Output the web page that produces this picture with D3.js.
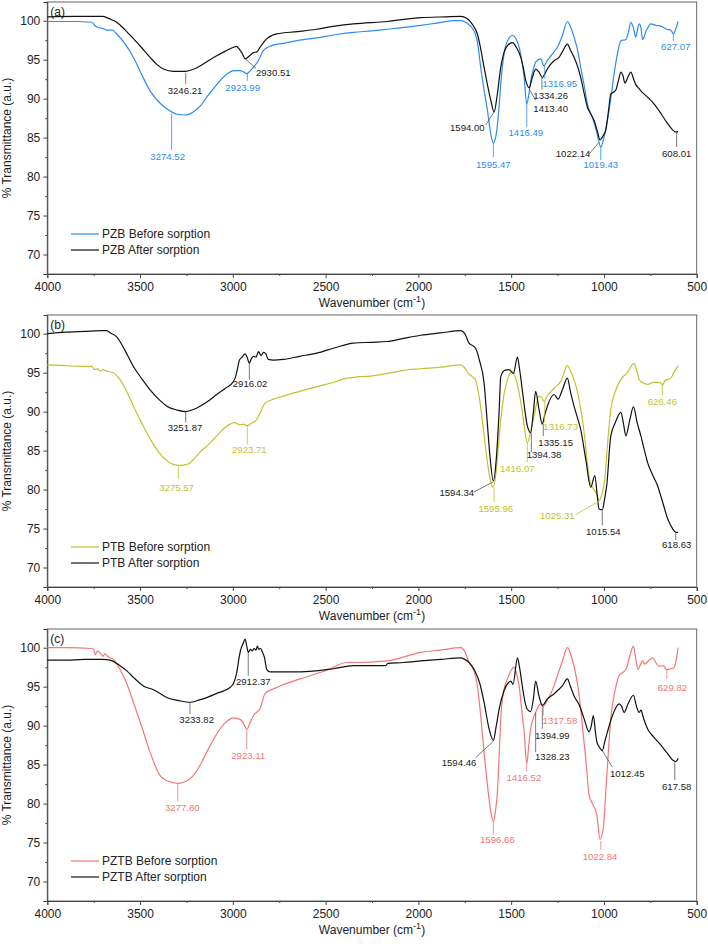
<!DOCTYPE html>
<html>
<head>
<meta charset="utf-8">
<script src="https://cdn.jsdelivr.net/npm/d3@7/dist/d3.min.js"></script>
<style>
  body { margin: 0; background: #fff; }
  svg { display: block; }
  text { font-family: "Liberation Sans", Arial, sans-serif; }
</style>
</head>
<body>
<script>
// ---- data: [wavenumber, % transmittance] ----
const pzbBefore = [[4000,99.9],[3850,99.9],[3760,99.8],[3740,99.3],[3720,99.1],[3700,99.0],[3680,98.8],[3650,98.8],[3626,98.3],[3580,97.0],[3536,95.3],[3490,93.0],[3446,91.0],[3400,89.6],[3356,88.7],[3300,88.0],[3260,87.9],[3213,88.3],[3170,89.2],[3141,90.2],[3100,91.4],[3069,92.3],[3030,93.2],[2996,93.6],[2961,93.6],[2940,93.4],[2925,93.2],[2905,93.6],[2889,94.0],[2860,95.0],[2835,96.2],[2790,96.8],[2728,97.1],[2640,97.5],[2548,97.8],[2450,98.2],[2350,98.5],[2250,98.7],[2167,98.9],[2050,99.2],[1987,99.4],[1900,99.7],[1800,100.0],[1771,100.0],[1740,99.7],[1700,98.7],[1680,97.0],[1664,94.0],[1645,91.0],[1628,88.5],[1610,85.5],[1596,84.3],[1580,85.5],[1565,89.0],[1556,91.9],[1540,95.5],[1520,97.4],[1493,98.1],[1470,97.5],[1457,96.6],[1440,94.5],[1430,92.7],[1416,89.3],[1405,90.5],[1395,92.2],[1380,93.8],[1368,94.7],[1341,95.1],[1323,94.2],[1305,94.9],[1286,95.5],[1251,96.6],[1225,98.0],[1197,99.9],[1180,99.2],[1161,97.9],[1140,96.0],[1125,94.0],[1105,91.5],[1089,89.3],[1062,87.6],[1040,85.8],[1017,83.8],[1000,85.0],[981,87.2],[960,90.5],[945,93.2],[925,96.0],[909,97.4],[882,97.6],[868,98.5],[855,99.8],[840,99.0],[828,97.9],[818,99.0],[810,99.6],[800,99.0],[792,97.6],[770,98.8],[747,99.6],[720,99.4],[693,99.3],[660,98.9],[639,98.8],[626,98.3],[612,99.0],[600,99.9]];
const pzbAfter = [[4000,100.5],[3850,100.55],[3700,100.55],[3680,100.4],[3650,100.1],[3626,99.8],[3580,98.8],[3536,97.7],[3490,96.5],[3446,95.3],[3410,94.4],[3374,93.8],[3320,93.5],[3254,93.5],[3210,93.8],[3177,94.2],[3130,94.9],[3087,95.5],[3040,96.1],[2996,96.6],[2980,96.7],[2970,96.5],[2950,95.8],[2933,95.1],[2910,95.5],[2889,95.9],[2870,96.0],[2853,96.6],[2835,97.2],[2817,97.7],[2790,98.1],[2763,98.3],[2650,98.6],[2548,98.9],[2450,99.3],[2350,99.6],[2167,99.9],[1987,100.4],[1850,100.5],[1771,100.55],[1740,100.3],[1717,99.8],[1700,99.2],[1682,98.3],[1665,96.5],[1646,94.0],[1628,91.8],[1610,89.8],[1592,88.3],[1575,90.5],[1556,94.0],[1540,95.8],[1520,96.8],[1493,97.2],[1470,96.5],[1448,95.3],[1435,94.0],[1421,92.3],[1403,91.4],[1385,92.8],[1368,93.8],[1350,93.4],[1332,92.7],[1318,93.2],[1305,93.8],[1268,94.9],[1242,95.3],[1220,96.2],[1197,97.0],[1180,96.2],[1161,95.3],[1140,94.0],[1125,92.7],[1105,90.5],[1089,88.9],[1070,88.0],[1053,87.2],[1035,85.8],[1021,84.7],[1005,85.2],[990,86.0],[975,88.5],[963,90.6],[950,90.8],[936,91.1],[920,92.5],[909,93.4],[898,93.0],[887,92.0],[870,92.8],[855,93.4],[840,92.5],[828,91.8],[815,91.4],[801,91.0],[765,90.2],[729,89.3],[690,88.0],[657,86.8],[630,86.0],[612,85.7],[600,85.8]];

const ptbBefore = [[4000,96.0],[3900,95.9],[3800,95.8],[3760,95.8],[3745,95.4],[3730,95.5],[3715,95.2],[3700,95.4],[3680,95.2],[3644,95.0],[3608,94.1],[3570,92.5],[3536,90.7],[3490,88.5],[3446,86.5],[3400,84.8],[3350,83.6],[3293,83.1],[3240,83.3],[3200,84.2],[3177,84.8],[3130,85.8],[3087,86.9],[3050,87.8],[3015,88.4],[2990,88.6],[2961,88.3],[2945,88.4],[2922,88.2],[2900,88.5],[2871,89.0],[2850,90.0],[2826,91.1],[2780,91.6],[2728,92.0],[2640,92.6],[2548,93.2],[2450,93.8],[2386,94.3],[2347,94.4],[2250,94.6],[2167,94.9],[2080,95.3],[1987,95.5],[1880,95.7],[1771,96.0],[1750,95.6],[1727,94.8],[1710,94.5],[1691,94.0],[1670,91.5],[1646,87.0],[1625,83.0],[1610,81.0],[1596,80.3],[1580,82.5],[1560,88.0],[1540,92.0],[1520,94.1],[1493,95.2],[1470,93.8],[1457,92.4],[1440,90.0],[1430,88.2],[1413,86.0],[1395,87.5],[1377,89.4],[1350,92.0],[1335,91.8],[1323,91.3],[1300,92.2],[1268,93.0],[1230,94.0],[1197,95.9],[1180,95.2],[1161,94.1],[1140,92.2],[1125,90.3],[1105,87.0],[1090,83.5],[1075,81.0],[1062,80.3],[1040,79.5],[1026,78.6],[1010,79.5],[995,81.4],[980,86.0],[963,90.3],[940,92.5],[909,94.1],[874,95.0],[838,96.2],[820,95.0],[810,94.1],[790,93.7],[765,93.5],[730,93.8],[693,93.7],[685,93.4],[670,94.0],[640,94.3],[623,95.0],[600,95.9]];
const ptbAfter = [[4000,100.0],[3900,100.2],[3800,100.3],[3700,100.4],[3680,100.4],[3660,100.1],[3626,99.6],[3580,97.8],[3536,95.8],[3490,94.2],[3446,92.8],[3400,91.6],[3356,90.7],[3300,90.2],[3254,90.0],[3210,90.3],[3177,90.7],[3130,91.4],[3087,92.2],[3040,93.0],[2996,93.9],[2985,94.5],[2975,95.5],[2965,96.6],[2950,97.0],[2934,97.4],[2922,96.9],[2911,96.2],[2900,96.8],[2889,97.1],[2875,97.0],[2862,97.7],[2848,97.2],[2835,97.6],[2822,97.4],[2809,96.7],[2780,96.6],[2728,96.7],[2640,97.1],[2548,97.5],[2450,98.2],[2350,98.8],[2250,98.9],[2167,99.0],[2080,99.4],[1987,99.8],[1880,100.1],[1771,100.4],[1750,100.0],[1727,98.8],[1710,98.5],[1691,98.1],[1670,96.5],[1646,93.7],[1630,89.0],[1615,84.5],[1596,81.1],[1580,84.0],[1565,90.0],[1556,94.5],[1535,95.3],[1511,95.4],[1488,94.9],[1466,97.0],[1455,95.5],[1440,92.8],[1413,88.2],[1395,87.3],[1380,90.0],[1368,92.6],[1350,90.3],[1332,88.4],[1320,89.5],[1305,90.7],[1268,92.2],[1247,91.6],[1224,92.8],[1197,94.3],[1180,92.5],[1161,90.7],[1140,89.0],[1125,87.7],[1098,83.9],[1071,80.3],[1049,81.8],[1035,79.0],[1026,77.5],[1009,77.4],[995,79.0],[985,80.5],[963,86.9],[940,88.5],[909,89.9],[895,88.5],[882,86.9],[860,89.0],[841,90.6],[820,88.5],[801,86.9],[774,84.3],[765,83.5],[740,82.0],[711,80.5],[685,78.5],[657,76.3],[630,75.0],[612,74.5],[600,74.5]];

const pztbBefore = [[4000,100.0],[3900,100.0],[3760,99.9],[3750,99.7],[3740,99.1],[3730,99.6],[3715,99.3],[3700,98.9],[3690,99.2],[3670,98.8],[3644,98.5],[3608,97.2],[3570,95.3],[3536,93.0],[3490,89.8],[3446,86.6],[3392,83.6],[3340,82.8],[3293,82.6],[3250,82.9],[3213,83.6],[3170,85.2],[3141,86.6],[3100,88.4],[3069,89.6],[3030,90.6],[2996,91.0],[2961,90.8],[2940,90.2],[2925,89.5],[2905,90.5],[2889,91.3],[2853,92.2],[2826,94.1],[2763,94.9],[2637,96.0],[2494,97.1],[2386,98.1],[2347,98.1],[2167,98.3],[1987,99.4],[1880,99.7],[1771,100.0],[1750,99.5],[1727,98.1],[1700,97.0],[1682,95.1],[1665,91.5],[1646,86.6],[1628,82.4],[1610,79.0],[1596,77.7],[1585,79.0],[1574,81.5],[1565,86.0],[1556,90.9],[1540,94.5],[1520,96.0],[1484,97.5],[1470,96.6],[1457,95.1],[1443,92.0],[1430,89.2],[1416,85.1],[1405,87.5],[1395,89.6],[1368,91.7],[1341,92.8],[1327,92.5],[1305,93.3],[1286,94.1],[1251,96.4],[1225,98.2],[1197,100.0],[1180,99.2],[1161,97.6],[1140,95.0],[1125,92.1],[1110,88.5],[1098,85.8],[1080,81.1],[1062,80.0],[1038,78.5],[1021,75.4],[1003,76.9],[990,81.5],[975,87.0],[963,90.9],[940,94.5],[918,96.4],[882,97.2],[860,99.0],[841,100.2],[828,98.5],[816,97.2],[804,97.8],[792,98.3],[780,97.9],[760,98.3],[738,98.7],[720,98.1],[702,97.6],[680,97.7],[661,97.2],[640,97.3],[623,97.4],[610,98.5],[600,100.0]];
const pztbAfter = [[4000,98.4],[3900,98.4],[3800,98.5],[3700,98.5],[3662,98.4],[3608,97.7],[3570,97.0],[3536,96.2],[3482,95.1],[3428,94.6],[3390,94.1],[3356,93.6],[3290,93.2],[3231,93.0],[3180,93.3],[3141,93.6],[3080,94.2],[3015,94.9],[2995,95.5],[2979,96.8],[2968,98.5],[2957,99.8],[2945,100.5],[2934,101.1],[2925,100.2],[2916,99.4],[2905,99.8],[2895,99.6],[2885,99.9],[2875,99.7],[2868,100.2],[2860,99.8],[2850,99.9],[2840,99.4],[2830,98.8],[2817,97.2],[2799,96.9],[2700,96.9],[2637,96.9],[2458,97.3],[2350,97.7],[2250,97.7],[2175,97.7],[2165,98.0],[2080,98.1],[1987,98.3],[1880,98.5],[1771,98.7],[1750,98.5],[1727,98.1],[1710,97.6],[1691,96.8],[1670,95.5],[1646,93.0],[1619,89.6],[1596,88.1],[1580,90.0],[1565,92.1],[1538,94.5],[1515,95.5],[1502,95.7],[1490,95.3],[1466,98.7],[1455,97.5],[1440,95.1],[1425,93.0],[1413,92.1],[1395,91.8],[1380,93.5],[1368,95.7],[1350,93.8],[1332,92.6],[1305,93.4],[1268,94.1],[1245,94.6],[1224,95.1],[1197,96.0],[1180,95.0],[1161,93.8],[1134,92.7],[1107,90.9],[1080,89.2],[1068,90.0],[1057,91.3],[1045,89.0],[1038,87.9],[1026,87.3],[1009,86.8],[995,88.0],[981,89.2],[954,91.3],[918,92.8],[905,92.5],[891,91.7],[870,92.8],[841,93.9],[825,92.5],[810,91.7],[800,92.0],[790,91.2],[765,89.6],[730,88.5],[693,87.5],[660,86.5],[630,85.6],[612,85.4],[600,85.8]];

// peak labels: [text, series (0 before / 1 after), x1, y1, x2, y2, textX, textY] in data units
const notesA = [
  ['3274.52',0,3330,88.1,3330,83.4,3351,82.6],
  ['3246.21',1,3254,93.3,3254,91.9,3258,91.1],
  ['2923.99',0,2922,93.2,2922,92.3,2947,91.4],
  ['2930.51',1,2933,95.1,2875,93.9,2782,93.3],
  ['1594.00',1,1592,88.3,1637,86.6,1736,86.3],
  ['1595.47',0,1596,84.3,1596,82.5,1596,81.5],
  ['1416.49',0,1416,89.3,1416,86.4,1421,85.7],
  ['1413.40',1,1404,91.3,1368,89.8,1287,88.7],
  ['1334.26',1,1334,92.7,1334,91.2,1287,90.4],
  ['1316.95',0,1319,94.2,1319,92.6,1238,92.0],
  ['1022.14',1,1026,84.4,1080,82.9,1166,83.0],
  ['1019.43',0,1017,83.8,1017,82.1,1017,81.5],
  ['608.01',1,608,85.7,608,83.8,608,83.0],
  ['627.07',0,626,98.3,626,97.4,613,96.7]
];
const notesB = [
  ['3251.87',1,3254,90.0,3254,88.6,3258,88.0],
  ['2916.02',1,2911,96.2,2911,94.1,2907,93.6],
  ['2923.71',0,2922,88.2,2922,85.8,2911,85.1],
  ['3275.57',0,3294,83.0,3294,81.4,3303,80.3],
  ['1594.34',1,1596,81.0,1700,79.7,1793,79.6],
  ['1595.96',0,1592,80.2,1592,78.4,1583,77.6],
  ['1416.07',0,1413,86.0,1413,83.5,1467,82.7],
  ['1394.38',1,1391,87.3,1391,84.8,1323,84.5],
  ['1335.15',1,1327,88.4,1327,86.9,1260,86.0],
  ['1316.73',0,1319,91.3,1319,88.6,1233,88.1],
  ['1025.31',0,1026,78.5,1152,76.8,1251,76.7],
  ['1015.54',1,1009,77.3,1009,75.4,1003,74.6],
  ['618.63',1,613,74.4,613,73.5,608,72.9],
  ['626.46',0,685,93.5,685,92.1,685,91.3]
];
const notesC = [
  ['3233.82',1,3231,93.0,3231,91.5,3195,90.8],
  ['2912.37',1,2917,99.4,2917,96.4,2890,95.6],
  ['2923.11',0,2925,89.4,2925,87.0,2917,86.2],
  ['3277.80',0,3297,82.6,3297,80.3,3272,79.5],
  ['1594.46',1,1596,88.0,1691,85.9,1781,85.3],
  ['1596.66',0,1596,77.7,1596,76.0,1574,75.4],
  ['1416.52',0,1416,85.1,1416,84.1,1431,83.3],
  ['1328.23',1,1368,91.7,1368,86.6,1278,86.0],
  ['1394.99',1,1332,92.5,1332,89.6,1278,88.7],
  ['1317.58',0,1327,92.5,1327,91.3,1237,90.6],
  ['1012.45',1,1009,86.8,955,84.7,874,83.9],
  ['1022.84',0,1017,75.2,1017,74.1,1021,73.2],
  ['629.82',0,661,97.2,661,96.0,631,94.9],
  ['617.58',1,618,85.3,618,83.0,608,82.2]
];

const xTicks = [4000, 3500, 3000, 2500, 2000, 1500, 1000, 500];
const yTicks = [70, 75, 80, 85, 90, 95, 100];
const panelTags = ['(a)', '(b)', '(c)'];
const legendNames = [
  ['PZB Before sorption', 'PZB After sorption'],
  ['PTB Before sorption', 'PTB After sorption'],
  ['PZTB Before sorption', 'PZTB After sorption']
];
const beforeColors = ['#2b8cf0', '#c2c230', '#f47676'];
const afterColor = '#111';

const W = 708, H = 944;
const left = 47.3, right = 696.7, plotH = 272;
const tops = [2, 315, 629];

const svg = d3.select('body').append('svg')
  .attr('width', W).attr('height', H);

const x = d3.scaleLinear().domain([4000, 500]).range([left, right]);

const panelData = [
  [pzbBefore, pzbAfter, notesA],
  [ptbBefore, ptbAfter, notesB],
  [pztbBefore, pztbAfter, notesC]
];

panelData.forEach((pd, i) => {
  const top = tops[i];
  const y = d3.scaleLinear().domain([67.5, 102.4]).range([top + plotH, top]);
  const g = svg.append('g');
  const colors = [beforeColors[i], afterColor];

  // frame
  g.append('rect')
    .attr('x', left).attr('y', top)
    .attr('width', right - left).attr('height', plotH)
    .attr('fill', 'none').attr('stroke', '#666').attr('stroke-width', 1);

  // x axis
  g.append('g').attr('transform', `translate(0,${top + plotH})`)
    .call(d3.axisBottom(x).tickValues(xTicks).tickSize(4).tickPadding(4).tickFormat(d3.format('d')));
  g.append('g').attr('transform', `translate(0,${top + plotH})`)
    .call(d3.axisBottom(x).tickValues(d3.range(3750, 500, -500)).tickSize(2).tickFormat(''))
    .call(a => a.select('.domain').remove());

  // y axis
  g.append('g').attr('transform', `translate(${left},0)`)
    .call(d3.axisLeft(y).tickValues(yTicks).tickSize(4).tickPadding(3));
  g.append('g').attr('transform', `translate(${left},0)`)
    .call(d3.axisLeft(y).tickValues([72.5, 77.5, 82.5, 87.5, 92.5, 97.5]).tickSize(2).tickFormat(''))
    .call(a => a.select('.domain').remove());

  g.selectAll('.tick text').attr('font-size', 12).attr('fill', '#222')
    .attr('font-family', '"Liberation Sans", Arial, sans-serif');
  g.selectAll('.domain, .tick line').attr('stroke', '#444');

  // axis titles
  const xt = g.append('text')
    .attr('x', (left + right) / 2).attr('y', top + plotH + 33)
    .attr('text-anchor', 'middle').attr('font-size', 12).attr('fill', '#222');
  xt.append('tspan').text('Wavenumber (cm');
  xt.append('tspan').attr('dy', -5).attr('font-size', 9).text('-1');
  xt.append('tspan').attr('dy', 5).text(')');

  g.append('text')
    .attr('transform', `translate(11,${top + plotH / 2}) rotate(-90)`)
    .attr('text-anchor', 'middle').attr('font-size', 12).attr('fill', '#222')
    .text('% Transmittance (a.u.)');

  // panel tag
  g.append('text').attr('x', left + 3).attr('y', top + 14)
    .attr('font-size', 12).attr('fill', '#222').text(panelTags[i]);

  // curves
  const line = d3.line()
    .x(d => x(d[0])).y(d => y(d[1]))
    .curve(d3.curveMonotoneX);

  [pd[0], pd[1]].forEach((s, k) => {
    g.append('path').datum(s)
      .attr('d', line)
      .attr('fill', 'none')
      .attr('stroke', colors[k])
      .attr('stroke-width', 1.2)
      .attr('stroke-linejoin', 'round');
  });

  // peak labels
  const notes = g.selectAll('.note').data(pd[2]).enter().append('g');
  notes.append('line')
    .attr('x1', d => x(d[2])).attr('y1', d => y(d[3]))
    .attr('x2', d => x(d[4])).attr('y2', d => y(d[5]))
    .attr('stroke', d => d[1] ? '#555' : colors[0])
    .attr('stroke-width', 0.8);
  notes.append('text')
    .attr('x', d => x(d[6])).attr('y', d => y(d[7]))
    .attr('text-anchor', 'middle').attr('dominant-baseline', 'central')
    .attr('font-size', 9.6)
    .attr('fill', d => d[1] ? '#222' : colors[0])
    .text(d => d[0]);

  // legend
  legendNames[i].forEach((name, k) => {
    const ly = top + 232 + k * 16;
    g.append('line').attr('x1', 71).attr('x2', 99)
      .attr('y1', ly).attr('y2', ly)
      .attr('stroke', colors[k]).attr('stroke-width', 1.2);
    g.append('text').attr('x', 102).attr('y', ly)
      .attr('dominant-baseline', 'central')
      .attr('font-size', 12).attr('fill', '#222').text(name);
  });
});
</script>
</body>
</html>
